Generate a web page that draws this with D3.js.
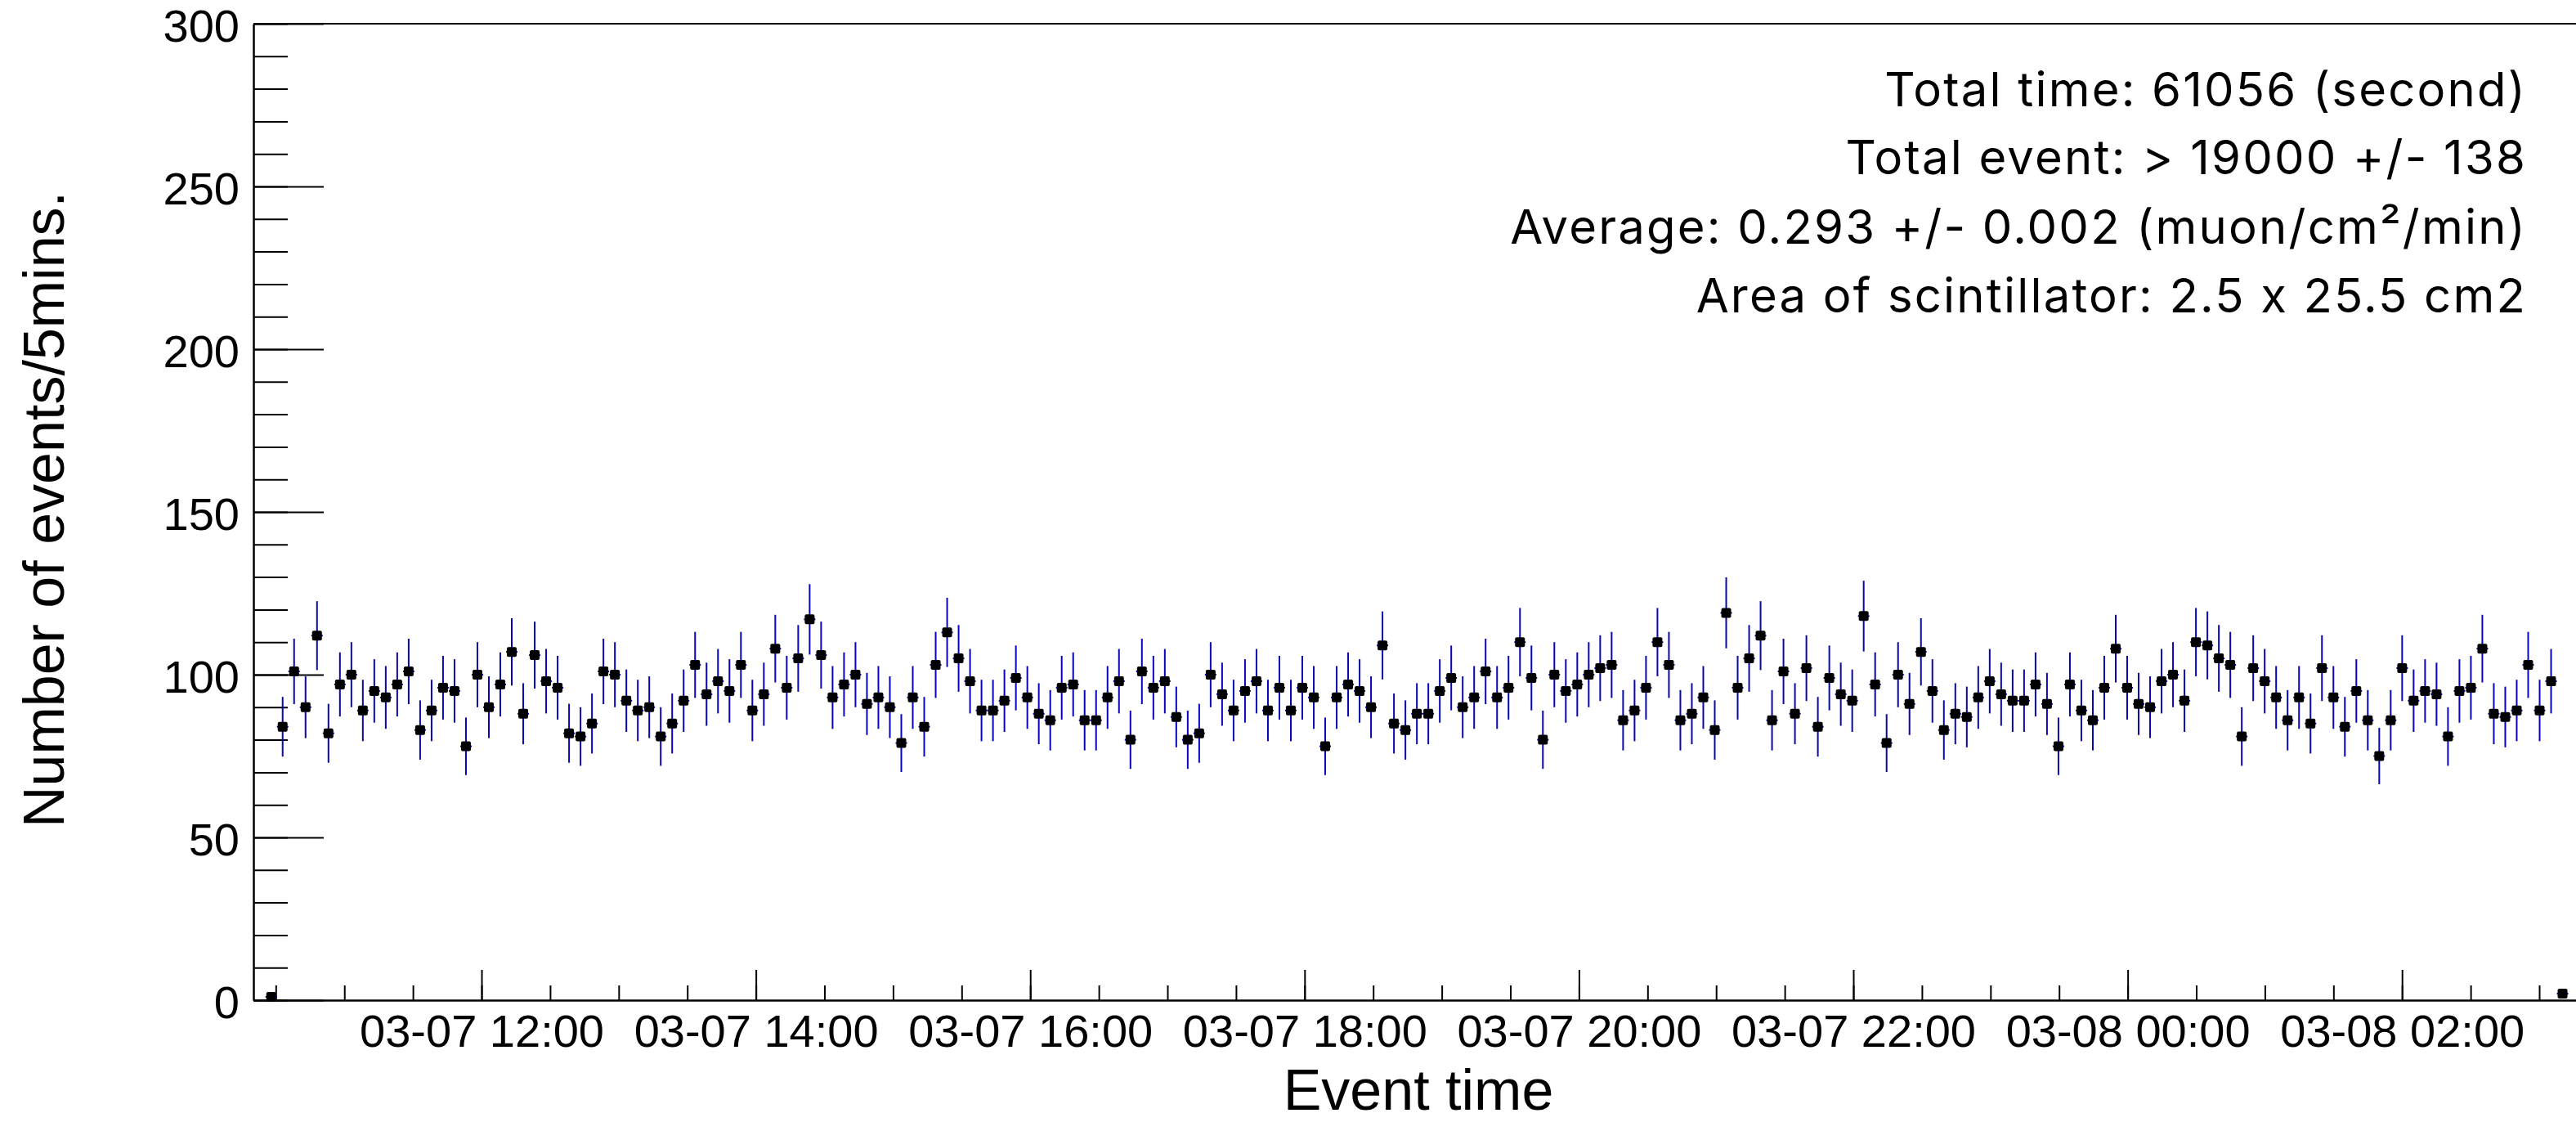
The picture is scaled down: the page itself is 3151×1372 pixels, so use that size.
<!DOCTYPE html>
<html>
<head>
<meta charset="utf-8">
<script src="https://cdn.jsdelivr.net/npm/d3@7"></script>
<style>
  html, body { margin: 0; padding: 0; background: #ffffff; }
  svg { display: block; }
  .stats { font-feature-settings: "calt" 0; font-variant-ligatures: none; }
</style>
</head>
<body>
<svg id="chart" width="3151" height="1372"></svg>
<script>
// ---------------- data ----------------
const firstBinCentre = "2024-03-07T10:28:00";
const binSeconds = 300.66;
const counts = [
  1, 84, 101, 90, 112, 82, 97, 100, 89, 95,
  93, 97, 101, 83, 89, 96, 95, 78, 100, 90,
  97, 107, 88, 106, 98, 96, 82, 81, 85, 101,
  100, 92, 89, 90, 81, 85, 92, 103, 94, 98,
  95, 103, 89, 94, 108, 96, 105, 117, 106, 93,
  97, 100, 91, 93, 90, 79, 93, 84, 103, 113,
  105, 98, 89, 89, 92, 99, 93, 88, 86, 96,
  97, 86, 86, 93, 98, 80, 101, 96, 98, 87,
  80, 82, 100, 94, 89, 95, 98, 89, 96, 89,
  96, 93, 78, 93, 97, 95, 90, 109, 85, 83,
  88, 88, 95, 99, 90, 93, 101, 93, 96, 110,
  99, 80, 100, 95, 97, 100, 102, 103, 86, 89,
  96, 110, 103, 86, 88, 93, 83, 119, 96, 105,
  112, 86, 101, 88, 102, 84, 99, 94, 92, 118,
  97, 79, 100, 91, 107, 95, 83, 88, 87, 93,
  98, 94, 92, 92, 97, 91, 78, 97, 89, 86,
  96, 108, 96, 91, 90, 98, 100, 92, 110, 109,
  105, 103, 81, 102, 98, 93, 86, 93, 85, 102,
  93, 84, 95, 86, 75, 86, 102, 92, 95, 94,
  81, 95, 96, 108, 88, 87, 89, 103, 89, 98,
  2
];
const yTickValues = [0, 50, 100, 150, 200, 250, 300];
const xTickTimes = ["2024-03-07T12:00:00", "2024-03-07T14:00:00", "2024-03-07T16:00:00",
                    "2024-03-07T18:00:00", "2024-03-07T20:00:00", "2024-03-07T22:00:00",
                    "2024-03-08T00:00:00", "2024-03-08T02:00:00"];
const xDomain = ["2024-03-07T10:20:14", "2024-03-08T03:16:05"];
const yDomain = [0, 300];
const statsLines = [
  "Total time: 61056 (second)",
  "Total event: > 19000 +/- 138",
  "Average: 0.293 +/- 0.002 (muon/cm\u00B2/min)",
  "Area of scintillator: 2.5 x 25.5 cm2"
];
const xTitle = "Event time";
const yTitle = "Number of events/5mins.";

(function draw() {
  const W = 3151, H = 1372;
  const pLeft = 310, pRight = 3151, pTop = 29, pBottom = 1223;
  const errColor = "#0606b4";
  const tickFont = "'Liberation Sans', Arial, sans-serif";

  const svg = d3.select("#chart");
  svg.append("rect").attr("width", W).attr("height", H).attr("fill", "#fff");

  const parse = s => new Date(s);
  const x = d3.scaleTime().domain(xDomain.map(parse)).range([pLeft, pRight]);
  const y = d3.scaleLinear().domain(yDomain).range([pBottom, pTop]);

  const t0 = parse(firstBinCentre).getTime();
  const data = counts.map((c, i) => ({
    t: new Date(t0 + i * binSeconds * 1000),
    lo: new Date(t0 + (i - 0.5) * binSeconds * 1000),
    hi: new Date(t0 + (i + 0.5) * binSeconds * 1000),
    v: c,
    e: Math.sqrt(c)
  }));

  // minor y ticks
  svg.append("g").attr("transform", `translate(${pLeft},0)`)
    .call(d3.axisLeft(y).tickValues(d3.range(0, 301, 10)).tickSize(-42).tickSizeOuter(0).tickFormat(""))
    .call(g => g.select(".domain").remove())
    .call(g => g.selectAll("line").attr("stroke", "#000").attr("stroke-width", 2));
  // major y ticks
  svg.append("g").attr("transform", `translate(${pLeft},0)`)
    .call(d3.axisLeft(y).tickValues(yTickValues).tickSize(-86).tickSizeOuter(0).tickPadding(17))
    .call(g => g.select(".domain").attr("stroke-width", 2.5))
    .call(g => g.selectAll("line").attr("stroke", "#000").attr("stroke-width", 2))
    .call(g => g.selectAll("text").attr("font-family", tickFont).attr("font-size", 56)
        .attr("fill", "#000").attr("dy", "0.39em"));

  // minor x ticks
  svg.append("g").attr("transform", `translate(0,${pBottom})`)
    .call(d3.axisBottom(x).tickValues(d3.timeMinute.every(30).range(...x.domain())).tickSize(-18).tickSizeOuter(0).tickFormat(""))
    .call(g => g.select(".domain").remove())
    .call(g => g.selectAll("line").attr("stroke", "#000").attr("stroke-width", 2));
  // major x ticks
  const fmt = d3.timeFormat("%m-%d %H:%M");
  svg.append("g").attr("transform", `translate(0,${pBottom})`)
    .call(d3.axisBottom(x).tickValues(xTickTimes.map(parse)).tickSize(-37).tickSizeOuter(0).tickPadding(17).tickFormat(fmt))
    .call(g => g.select(".domain").attr("stroke-width", 2.5))
    .call(g => g.selectAll("line").attr("stroke", "#000").attr("stroke-width", 2))
    .call(g => g.selectAll("text").attr("font-family", tickFont).attr("font-size", 56).attr("fill", "#000"));

  // top frame
  svg.append("line").attr("x1", pLeft).attr("x2", pRight).attr("y1", pTop).attr("y2", pTop)
    .attr("stroke", "#000").attr("stroke-width", 2);

  // titles
  svg.append("text").attr("x", 1735).attr("y", 1357).attr("text-anchor", "middle")
    .attr("font-family", tickFont).attr("font-size", 70).attr("fill", "#000").text(xTitle);
  svg.append("text").attr("transform", "translate(78,623) rotate(-90)").attr("text-anchor", "middle")
    .attr("font-family", tickFont).attr("font-size", 70).attr("fill", "#000").text(yTitle);

  // data marks
  const g = svg.append("g");
  g.selectAll("line.ev").data(data).join("line").attr("class", "ev")
    .attr("x1", d => x(d.t)).attr("x2", d => x(d.t))
    .attr("y1", d => y(d.v - d.e)).attr("y2", d => y(d.v + d.e))
    .attr("stroke", errColor).attr("stroke-width", 2);
  g.selectAll("line.eh").data(data).join("line").attr("class", "eh")
    .attr("x1", d => x(d.lo)).attr("x2", d => x(d.hi))
    .attr("y1", d => y(d.v)).attr("y2", d => y(d.v))
    .attr("stroke", errColor).attr("stroke-width", 2);
  g.selectAll("rect.m").data(data).join("rect").attr("class", "m")
    .attr("x", d => x(d.t) - 6).attr("y", d => y(d.v) - 6)
    .attr("width", 12).attr("height", 12).attr("rx", 2)
    .attr("fill", "#000");

  // stats text
  const statsFont = "Inter, 'Noto Sans', sans-serif";
  const baselines = [130, 213, 298, 382];
  svg.append("g").selectAll("text").data(statsLines).join("text")
    .attr("class", "stats")
    .attr("x", 3091).attr("y", (d, i) => baselines[i]).attr("text-anchor", "end")
    .attr("font-family", statsFont).attr("font-size", 58).attr("letter-spacing", 2.2)
    .attr("fill", "#000")
    .text(d => d);
})();
</script>
</body>
</html>
